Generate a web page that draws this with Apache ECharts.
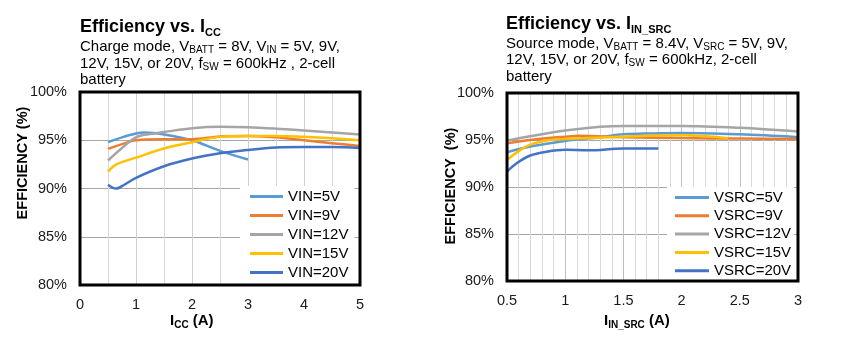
<!DOCTYPE html>
<html>
<head>
<meta charset="utf-8">
<script src="https://cdn.jsdelivr.net/npm/echarts@6/dist/echarts.min.js"></script>
<style>html,body{margin:0;padding:0;background:#fff}#c{width:841px;height:358px}</style>
</head>
<body>
<div id="c"></div>
<script>
// ---- Left chart: Efficiency vs. ICC (Charge mode) ----
const leftNames = ['VIN=5V', 'VIN=9V', 'VIN=12V', 'VIN=15V', 'VIN=20V'];
const vin5X  = [0.5, 0.75, 1.0, 1.15, 1.5, 2.0, 2.5, 3.0];
const vin5Y  = [94.8, 95.3, 95.7, 95.8, 95.6, 95.0, 93.9, 93.0];
const vin9X  = [0.5, 0.75, 1.0, 1.5, 2.0, 2.5, 3.0, 3.5, 4.0, 4.5, 5.0];
const vin9Y  = [94.1, 94.6, 95.0, 95.1, 95.1, 95.4, 95.45, 95.3, 95.0, 94.7, 94.4];
const vin12X = [0.5, 0.75, 1.0, 1.25, 1.5, 2.0, 2.5, 3.0, 3.5, 4.0, 4.5, 5.0];
const vin12Y = [92.9, 94.2, 95.3, 95.65, 95.85, 96.25, 96.4, 96.35, 96.2, 96.0, 95.8, 95.6];
const vin15X = [0.5, 0.65, 1.0, 1.5, 2.0, 2.5, 3.0, 3.5, 4.0, 4.5, 5.0];
const vin15Y = [91.75, 92.5, 93.2, 94.15, 94.8, 95.35, 95.45, 95.45, 95.35, 95.2, 95.0];
const vin20X = [0.5, 0.58, 0.65, 0.75, 1.0, 1.5, 2.0, 2.5, 3.0, 3.5, 4.0, 4.5, 5.0];
const vin20Y = [90.4, 90.1, 90.0, 90.25, 91.1, 92.3, 93.1, 93.65, 94.0, 94.25, 94.3, 94.3, 94.2];

// ---- Right chart: Efficiency vs. IIN_SRC (Source mode) ----
const rightNames = ['VSRC=5V', 'VSRC=9V', 'VSRC=12V', 'VSRC=15V', 'VSRC=20V'];
const vsrc5X  = [0.5, 0.7, 1.0, 1.3, 1.5, 1.75, 2.0, 2.5, 3.0];
const vsrc5Y  = [93.7, 94.3, 94.9, 95.3, 95.6, 95.7, 95.75, 95.6, 95.3];
const vsrc9X  = [0.5, 0.7, 1.0, 1.12, 1.5, 2.0, 2.5, 3.0];
const vsrc9Y  = [94.65, 95.0, 95.35, 95.45, 95.3, 95.2, 95.15, 95.1];
const vsrc12X = [0.5, 0.7, 1.0, 1.3, 1.5, 2.0, 2.5, 3.0];
const vsrc12Y = [94.95, 95.4, 96.0, 96.4, 96.5, 96.5, 96.3, 95.9];
const vsrc15X = [0.5, 0.61, 0.7, 0.84, 1.0, 1.5, 2.0, 2.4];
const vsrc15Y = [92.9, 93.9, 94.5, 94.95, 95.1, 95.35, 95.5, 95.2];
const vsrc20X = [0.5, 0.58, 0.7, 0.84, 1.0, 1.2, 1.5, 1.8];
const vsrc20Y = [91.65, 92.5, 93.35, 93.75, 93.95, 93.9, 94.1, 94.1];

const colors = ['#5B9BD5', '#ED7D31', '#A5A5A5', '#FFC000', '#4472C4'];
const FF = 'Liberation Sans, Arial, sans-serif';

const leftX = [vin5X, vin9X, vin12X, vin15X, vin20X];
const leftY = [vin5Y, vin9Y, vin12Y, vin15Y, vin20Y];
const rightX = [vsrc5X, vsrc9X, vsrc12X, vsrc15X, vsrc20X];
const rightY = [vsrc5Y, vsrc9Y, vsrc12Y, vsrc15Y, vsrc20Y];

function zip(xs, ys) { return xs.map((x, i) => [x, ys[i]]); }

const series = [];
leftNames.forEach((n, i) => series.push({
  name: n, type: 'line', xAxisIndex: 0, yAxisIndex: 0, smooth: 0.35, symbol: 'none', showSymbol: false,
  data: zip(leftX[i], leftY[i]), lineStyle: { width: 2.5, color: colors[i] }, itemStyle: { color: colors[i] }
}));
rightNames.forEach((n, i) => series.push({
  name: n, type: 'line', xAxisIndex: 1, yAxisIndex: 1, smooth: 0.35, symbol: 'none', showSymbol: false,
  data: zip(rightX[i], rightY[i]), lineStyle: { width: 2.5, color: colors[i] }, itemStyle: { color: colors[i] }
}));

const titleRich = {
  a: { fontSize: 18, fontWeight: 'bold', lineHeight: 22, fontFamily: FF, color: '#000' },
  s: { fontSize: 11, fontWeight: 'bold', lineHeight: 12, verticalAlign: 'bottom', fontFamily: FF, color: '#000' }
};
const subRich = {
  a: { fontSize: 15, fontWeight: 'normal', lineHeight: 16.5, fontFamily: FF, color: '#000' },
  s: { fontSize: 10, fontWeight: 'normal', lineHeight: 8, verticalAlign: 'bottom', fontFamily: FF, color: '#000' }
};
const nameRich = {
  a: { fontSize: 15, fontWeight: 'bold', lineHeight: 18, fontFamily: FF, color: '#000' },
  s: { fontSize: 10, fontWeight: 'bold', lineHeight: 9, verticalAlign: 'bottom', fontFamily: FF, color: '#000' }
};

const yAxisCommon = {
  type: 'value', min: 80, max: 100, interval: 5,
  axisLine: { show: false }, axisTick: { show: false },
  axisLabel: { formatter: '{value}%', fontSize: 14.5, fontFamily: FF, color: '#1a1a1a', margin: 13 },
  splitLine: { show: true, lineStyle: { color: '#A6A6A6', width: 1 } }
};

const legendText = { fontSize: 15, fontFamily: FF, color: '#000', lineHeight: 19 };

const option = {
  animation: false,
  color: colors,
  title: [
    { left: 80, top: 16, padding: 0, text: '{a|Efficiency vs. I}{s|CC}', textStyle: { fontWeight: 'bold', rich: titleRich } },
    { left: 80, top: 39, padding: 0, text: '{a|Charge mode, V}{s|BATT}{a| = 8V, V}{s|IN}{a| = 5V, 9V,}\n{a|12V, 15V, or 20V, f}{s|SW}{a| = 600kHz , 2-cell}\n{a|battery}', textStyle: { fontWeight: 'normal', rich: subRich } },
    { left: 506, top: 13, padding: 0, text: '{a|Efficiency vs. I}{s|IN_SRC}', textStyle: { fontWeight: 'bold', rich: titleRich } },
    { left: 506, top: 35.5, padding: 0, text: '{a|Source mode, V}{s|BATT}{a| = 8.4V, V}{s|SRC}{a| = 5V, 9V,}\n{a|12V, 15V, or 20V, f}{s|SW}{a| = 600kHz, 2-cell}\n{a|battery}', textStyle: { fontWeight: 'normal', rich: subRich } },
    { left: 170, top: 312, padding: 0, text: '{a|I}{s|CC}{a| (A)}', textStyle: { fontWeight: 'bold', rich: nameRich } },
    { left: 604, top: 312, padding: 0, text: '{a|I}{s|IN_SRC}{a| (A)}', textStyle: { fontWeight: 'bold', rich: nameRich } }
  ],
  graphic: [
    { type: 'text', x: 22.5, y: 163, rotation: Math.PI / 2,
      style: { text: 'EFFICIENCY (%)', fontSize: 14.5, fontWeight: 'bold', fontFamily: FF, fill: '#000', align: 'center', verticalAlign: 'middle' } },
    { type: 'text', x: 451, y: 186, rotation: Math.PI / 2,
      style: { text: 'EFFICIENCY  (%)', fontSize: 14.5, fontWeight: 'bold', fontFamily: FF, fill: '#000', align: 'center', verticalAlign: 'middle' } },
    // plot-area frames drawn on top of grid lines
    { type: 'rect', z: 100, shape: { x: 80, y: 92, width: 280, height: 193 },
      style: { fill: 'none', stroke: '#000', lineWidth: 3 } },
    { type: 'rect', z: 100, shape: { x: 507, y: 93, width: 291, height: 188 },
      style: { fill: 'none', stroke: '#000', lineWidth: 3 } }
  ],
  grid: [
    { left: 80, top: 92, width: 280, height: 193, show: false },
    { left: 507, top: 93, width: 291, height: 188, show: false }
  ],
  xAxis: [
    { gridIndex: 0, type: 'value', min: 0, max: 5, interval: 1,
      axisLine: { show: false }, axisTick: { show: false },
      axisLabel: { fontSize: 14.5, fontFamily: FF, color: '#1a1a1a', margin: 12 },
      splitLine: { show: true, lineStyle: { color: '#CFCFCF' } },
      minorTick: { show: false, splitNumber: 2 },
      minorSplitLine: { show: true, lineStyle: { color: '#D9D9D9' } } },
    { gridIndex: 1, type: 'value', min: 0.5, max: 3, interval: 0.5,
      axisLine: { show: false }, axisTick: { show: false },
      axisLabel: { fontSize: 14.5, fontFamily: FF, color: '#1a1a1a', margin: 12 },
      splitLine: { show: true, lineStyle: { color: '#BFBFBF' } },
      minorTick: { show: false, splitNumber: 5 },
      minorSplitLine: { show: true, lineStyle: { color: '#D9D9D9' } } }
  ],
  yAxis: [
    Object.assign({ gridIndex: 0 }, yAxisCommon),
    Object.assign({ gridIndex: 1 }, yAxisCommon)
  ],
  legend: [
    { data: leftNames.map(n => ({ name: n, icon: 'rect' })), orient: 'vertical', left: 240, top: 186,
      itemWidth: 33, itemHeight: 3, itemGap: 0,
      padding: [1, 6, 4, 10], backgroundColor: '#fff', borderWidth: 0, textStyle: legendText },
    { data: rightNames.map(n => ({ name: n, icon: 'rect' })), orient: 'vertical', left: 667, top: 187,
      itemWidth: 34, itemHeight: 3, itemGap: -0.7,
      padding: [1, 3, 3, 8], backgroundColor: '#fff', borderWidth: 0, textStyle: legendText }
  ],
  series: series
};

const chart = echarts.init(document.getElementById('c'), null, { renderer: 'canvas' });
chart.setOption(option);
</script>
</body>
</html>
